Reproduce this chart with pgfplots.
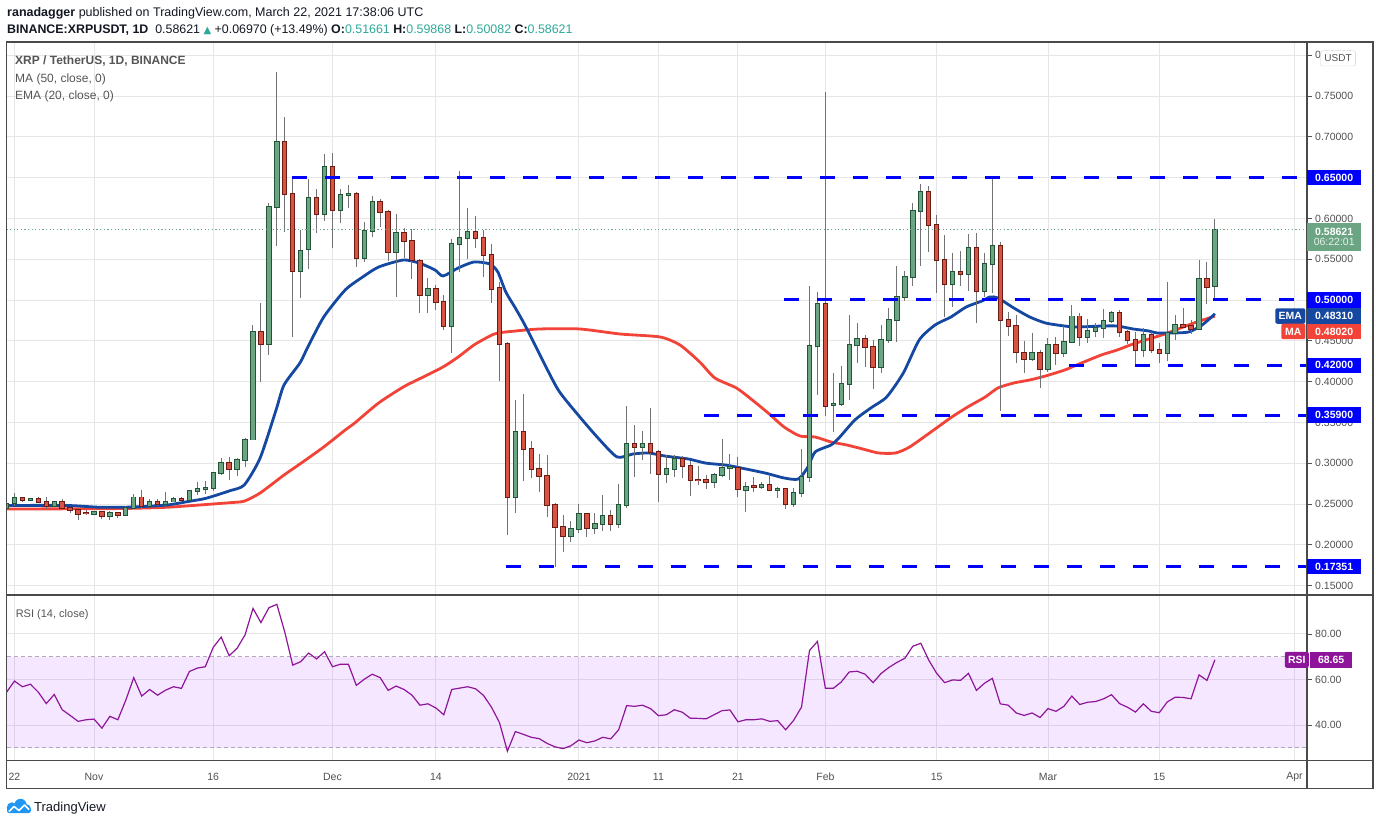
\documentclass[border=0pt]{standalone}
\usepackage{fontspec}
\setmainfont{Liberation Sans}
\newfontfamily\dejavu{DejaVu Sans}
\usepackage{pgfplots}
\usepackage{pgfplotstable}
\pgfplotsset{compat=1.18}

\definecolor{gridc}{RGB}{230,230,230}
\definecolor{framec}{RGB}{74,74,74}
\definecolor{labc}{RGB}{80,80,80}
\definecolor{gfill}{RGB}{107,165,131}
\definecolor{gbord}{RGB}{34,84,55}
\definecolor{rfill}{RGB}{215,84,66}
\definecolor{rbord}{RGB}{107,27,19}
\definecolor{wickc}{RGB}{115,115,117}
\definecolor{emac}{RGB}{21,72,160}
\definecolor{mac}{RGB}{242,67,56}
\definecolor{lvl}{RGB}{0,0,255}
\definecolor{rsic}{RGB}{142,21,153}
\definecolor{rsiband}{RGB}{153,21,255}
\definecolor{tvteal}{RGB}{45,168,150}
\definecolor{txt}{RGB}{19,23,34}
\definecolor{legc}{RGB}{85,85,85}
\definecolor{tvblue}{RGB}{33,150,243}

\pgfplotstableread{
k o h l c
-1 0.2445 0.2520 0.2430 0.2500
0 0.2510 0.2630 0.2480 0.2570
1 0.2570 0.2580 0.2530 0.2550
2 0.2550 0.2570 0.2540 0.2560
3 0.2560 0.2580 0.2510 0.2520
4 0.2520 0.2590 0.2440 0.2470
5 0.2470 0.2540 0.2460 0.2520
6 0.2520 0.2560 0.2440 0.2450
7 0.2450 0.2460 0.2390 0.2425
8 0.2425 0.2440 0.2300 0.2380
9 0.2390 0.2430 0.2370 0.2385
10 0.2380 0.2420 0.2360 0.2400
11 0.2400 0.2420 0.2320 0.2350
12 0.2350 0.2410 0.2300 0.2390
13 0.2390 0.2400 0.2330 0.2370
14 0.2370 0.2470 0.2360 0.2450
15 0.2450 0.2620 0.2440 0.2580
16 0.2580 0.2670 0.2440 0.2480
17 0.2480 0.2560 0.2460 0.2530
18 0.2530 0.2560 0.2480 0.2500
19 0.2500 0.2645 0.2480 0.2530
20 0.2530 0.2590 0.2520 0.2560
21 0.2560 0.2580 0.2530 0.2545
22 0.2550 0.2660 0.2540 0.2660
23 0.2660 0.2770 0.2610 0.2680
24 0.2680 0.2780 0.2620 0.2700
25 0.2692 0.2890 0.2660 0.2876
26 0.2876 0.3060 0.2860 0.2999
27 0.2999 0.3070 0.2800 0.2925
28 0.2925 0.3060 0.2840 0.3040
29 0.3040 0.3305 0.2957 0.3290
30 0.3290 0.4693 0.3280 0.4612
31 0.4612 0.4960 0.4000 0.4457
32 0.4457 0.6185 0.4326 0.6144
33 0.6144 0.7790 0.5666 0.6932
34 0.6932 0.7238 0.5830 0.6295
35 0.6295 0.6510 0.4550 0.5355
36 0.5355 0.5860 0.5020 0.5604
37 0.5621 0.6480 0.5376 0.6246
38 0.6246 0.6356 0.5817 0.6054
39 0.6054 0.6785 0.5970 0.6626
40 0.6626 0.6800 0.5633 0.6103
41 0.6103 0.6356 0.5940 0.6283
42 0.6283 0.6410 0.6130 0.6295
43 0.6295 0.6328 0.5410 0.5519
44 0.5519 0.5952 0.5470 0.5846
45 0.5846 0.6275 0.5776 0.6197
46 0.6197 0.6238 0.5900 0.6075
47 0.6075 0.6103 0.5480 0.5585
48 0.5585 0.6054 0.5033 0.5817
49 0.5817 0.5879 0.5519 0.5719
50 0.5719 0.5866 0.5253 0.5486
51 0.5474 0.5503 0.4845 0.5058
52 0.5058 0.5266 0.4845 0.5131
53 0.5131 0.5184 0.4878 0.4972
54 0.4972 0.5062 0.4633 0.4678
55 0.4678 0.5744 0.4355 0.5683
56 0.5683 0.6581 0.5348 0.5756
57 0.5756 0.6124 0.5499 0.5830
58 0.5830 0.6030 0.5642 0.5756
59 0.5756 0.5858 0.5278 0.5548
60 0.5548 0.5683 0.4968 0.5131
61 0.5143 0.5217 0.4012 0.4457
62 0.4457 0.4490 0.2120 0.2590
63 0.2590 0.3775 0.2394 0.3378
64 0.3378 0.3848 0.2786 0.3170
65 0.3170 0.3272 0.2823 0.2933
66 0.2933 0.3113 0.2651 0.2839
67 0.2839 0.3100 0.2337 0.2484
68 0.2484 0.2508 0.1732 0.2218
69 0.2218 0.2365 0.1916 0.2104
70 0.2104 0.2292 0.2038 0.2190
71 0.2190 0.2500 0.2149 0.2373
72 0.2373 0.2386 0.2100 0.2202
73 0.2202 0.2386 0.2132 0.2251
74 0.2251 0.2610 0.2173 0.2349
75 0.2349 0.2427 0.2173 0.2251
76 0.2251 0.2745 0.2210 0.2484
77 0.2484 0.3701 0.2447 0.3231
78 0.3231 0.3468 0.2835 0.3194
79 0.3194 0.3395 0.3039 0.3231
80 0.3231 0.3672 0.2864 0.3141
81 0.3141 0.3162 0.2529 0.2864
82 0.2864 0.3100 0.2761 0.2925
83 0.2925 0.3100 0.2835 0.3047
84 0.3047 0.3088 0.2823 0.2961
85 0.2961 0.3031 0.2602 0.2794
86 0.2794 0.2966 0.2733 0.2790
87 0.2794 0.2855 0.2680 0.2766
88 0.2766 0.2876 0.2700 0.2851
89 0.2851 0.3296 0.2835 0.2937
90 0.2937 0.3113 0.2794 0.2950
91 0.2946 0.3080 0.2590 0.2680
92 0.2672 0.2774 0.2398 0.2712
93 0.2720 0.2827 0.2643 0.2708
94 0.2712 0.2774 0.2680 0.2733
95 0.2729 0.2843 0.2668 0.2672
96 0.2672 0.2712 0.2569 0.2684
97 0.2680 0.2685 0.2435 0.2496
98 0.2496 0.2692 0.2459 0.2631
99 0.2631 0.3174 0.2582 0.2827
100 0.2827 0.5171 0.2774 0.4432
101 0.4432 0.5102 0.3836 0.4947
102 0.4947 0.7553 0.3582 0.3705
103 0.3709 0.4101 0.3386 0.3725
104 0.3721 0.4195 0.3700 0.3966
105 0.3966 0.4816 0.3774 0.4444
106 0.4444 0.4714 0.4232 0.4518
107 0.4518 0.4571 0.4183 0.4420
108 0.4420 0.4510 0.3905 0.4175
109 0.4175 0.4693 0.4109 0.4506
110 0.4506 0.4898 0.4477 0.4751
111 0.4751 0.5417 0.4489 0.5033
112 0.5033 0.5355 0.4992 0.5278
113 0.5278 0.6185 0.5176 0.6087
114 0.6087 0.6417 0.5417 0.6320
115 0.6320 0.6397 0.5592 0.5915
116 0.5915 0.6042 0.5082 0.5486
117 0.5486 0.5796 0.4796 0.5192
118 0.5192 0.5572 0.4918 0.5339
119 0.5339 0.5600 0.5176 0.5315
120 0.5315 0.5805 0.5114 0.5633
121 0.5633 0.5825 0.4714 0.5106
122 0.5106 0.5572 0.5041 0.5437
123 0.5437 0.6479 0.5082 0.5658
124 0.5658 0.5715 0.3644 0.4751
125 0.4751 0.4857 0.4559 0.4677
126 0.4677 0.4816 0.4232 0.4359
127 0.4346 0.4497 0.4101 0.4273
128 0.4273 0.4591 0.4257 0.4346
129 0.4346 0.4387 0.3917 0.4150
130 0.4150 0.4530 0.4113 0.4444
131 0.4444 0.4542 0.4203 0.4346
132 0.4346 0.4681 0.4297 0.4481
133 0.4481 0.4938 0.4470 0.4799
134 0.4799 0.4836 0.4440 0.4542
135 0.4542 0.4767 0.4477 0.4616
136 0.4616 0.4714 0.4550 0.4656
137 0.4656 0.4889 0.4538 0.4738
138 0.4738 0.4865 0.4714 0.4836
139 0.4836 0.4877 0.4542 0.4603
140 0.4603 0.4632 0.4460 0.4505
141 0.4505 0.4611 0.4211 0.4383
142 0.4383 0.4652 0.4305 0.4567
143 0.4567 0.4607 0.4346 0.4383
144 0.4383 0.4469 0.4223 0.4346
145 0.4346 0.5224 0.4256 0.4591
146 0.4591 0.4816 0.4509 0.4689
147 0.4689 0.4906 0.4660 0.4673
148 0.4677 0.4755 0.4579 0.4648
149 0.4648 0.5490 0.4640 0.5253
150 0.5253 0.5469 0.4946 0.5155
151 0.51661 0.59868 0.50082 0.58621
}\candles

\pgfplotstableread{
k r
-1 54.4
0 59.3
1 56.8
2 57.9
3 54.4
4 49.4
5 53.4
6 46.7
7 44.2
8 41.6
9 42.3
10 42.6
11 38.6
12 43.8
13 42.3
14 50.9
15 60.8
16 52.7
17 55.6
18 53.1
19 55.3
20 56.8
21 56.1
22 63.5
23 65.0
24 65.6
25 74.1
26 78.6
27 70.4
28 73.7
29 79.6
30 91.2
31 85.0
32 91.5
33 93.0
34 80.8
35 66.3
36 67.8
37 71.6
38 69.0
39 72.2
40 65.6
41 66.7
42 66.7
43 57.4
44 60.1
45 62.3
46 60.8
47 55.2
48 57.1
49 55.6
50 53.1
51 48.7
52 49.3
53 47.5
54 44.5
55 55.6
56 56.2
57 56.8
58 55.9
59 53.0
60 47.8
61 41.1
62 28.5
63 37.1
64 35.9
65 34.6
66 34.0
67 31.9
68 30.4
69 29.6
70 30.9
71 33.4
72 32.2
73 33.0
74 34.6
75 33.9
76 37.9
77 48.5
78 48.2
79 48.7
80 47.2
81 44.1
82 44.5
83 46.7
84 45.6
85 43.0
86 42.9
87 42.7
88 44.5
89 46.3
90 46.6
91 41.4
92 42.3
93 42.3
94 42.7
95 41.6
96 41.9
97 37.9
98 42.0
99 47.9
100 72.7
101 76.7
102 56.1
103 56.1
104 58.9
105 63.3
106 63.6
107 62.3
108 58.6
109 62.6
110 65.3
111 67.5
112 69.3
113 74.6
114 75.9
115 68.5
116 62.7
117 58.6
118 59.8
119 59.6
120 62.7
121 55.2
122 58.3
123 60.5
124 49.3
125 48.7
126 45.3
127 44.2
128 45.3
129 43.3
130 47.2
131 46.0
132 48.2
133 52.7
134 49.0
135 50.0
136 50.3
137 51.5
138 53.3
139 49.4
140 47.8
141 45.7
142 49.3
143 46.0
144 45.4
145 50.1
146 52.2
147 52.1
148 51.5
149 62.0
150 59.6
151 68.65
}\rsidata

\pgfplotsset{
  cbar/.style n args={2}{draw=none, mark=none, forget plot,
    error bars/.cd, y dir=minus, y explicit, error mark=none,
    error bar style={draw=#1, line width=#2, solid}, /pgfplots/.cd},
}
\tikzset{
  lbox/.style={anchor=west, inner sep=0pt, minimum height=15.5pt, minimum width=54pt,
    text=white, font=\bfseries\fontsize{10.5}{12}\selectfont},
}

\begin{document}
\begin{tikzpicture}[x=1pt,y=1pt]
\useasboundingbox (0,0) rectangle (1376,823);

% header
\node[anchor=base west, inner sep=0pt, text=txt, font=\fontsize{12.5}{14}\selectfont] at (7,806.3)
  {\textbf{ranadagger} published on TradingView.com, March 22, 2021 17:38:06 UTC};
\node[anchor=base west, inner sep=0pt, text=txt, font=\fontsize{12.4}{14}\selectfont] at (7,789.7)
  {\textbf{BINANCE:XRPUSDT, 1D}\ \ 0.58621 {\dejavu\fontsize{10}{12}\selectfont\color{tvteal}▲} +0.06970 (+13.49\%) \textbf{O:}\textcolor{tvteal}{0.51661} \textbf{H:}\textcolor{tvteal}{0.59868} \textbf{L:}\textcolor{tvteal}{0.50082} \textbf{C:}\textcolor{tvteal}{0.58621}};

% ---------- price pane ----------
\begin{axis}[
  at={(6.5pt,228pt)}, anchor=south west,
  scale only axis, width=1300.5pt, height=553pt,
  xmin=-1.006, xmax=162.58, ymin=0.13848, ymax=0.81618,
  axis line style={draw=none},
  clip mode=individual,
  xtick={0,10,25,40,53,71,81,91,102,116,130,144,161},
  xticklabels={},
  xtick style={draw=none},
  ytick={0.15,0.2,0.25,0.3,0.35,0.4,0.45,0.5,0.55,0.6,0.65,0.7,0.75,0.8},
  ytick pos=right, yticklabel pos=right,
  tick align=outside, major tick length=5pt,
  ytick style={labc, line width=0.8pt},
  grid=major, grid style={gridc, line width=0.9pt},
  yticklabel style={font=\fontsize{10.5}{12}\selectfont, text=labc, anchor=west, inner sep=0pt, xshift=3pt,
    /pgf/number format/fixed, /pgf/number format/fixed zerofill,
    /pgf/number format/precision=5, /pgf/number format/assume math mode=true},
]
% MA 50
\addplot[mac, line width=2.8pt, smooth, tension=0.4, forget plot] coordinates {
(-0.94,0.2439)(10.75,0.2442)(14.9,0.2447)(19.2,0.2460)(23.3,0.2488)(27.1,0.2516)(28.9,0.2535)(30.9,0.2635)(33.9,0.2855)(35.9,0.2990)(38.9,0.3199)(41.6,0.3407)(42.8,0.3493)(45.8,0.3738)(48.9,0.3934)(50.9,0.4032)(53.9,0.4179)(55.8,0.4301)(57.8,0.4449)(59.8,0.4559)(60.8,0.4596)(63.0,0.4620)(66.1,0.4645)(71.1,0.4645)(76.2,0.4583)(81.2,0.4547)(83.7,0.4449)(86.2,0.4240)(88.1,0.4044)(90.8,0.3922)(92.8,0.3775)(94.8,0.3615)(96.8,0.3444)(98.8,0.3333)(100.7,0.3321)(102.7,0.3260)(104.7,0.3223)(106.7,0.3174)(108.7,0.3125)(110.8,0.3125)(112.6,0.3199)(115.8,0.3419)(117.9,0.3566)(119.9,0.3689)(122.1,0.3811)(123.7,0.3922)(125.7,0.3983)(127.7,0.4020)(129.7,0.4069)(132.1,0.4142)(133.6,0.4203)(136.7,0.4326)(138.7,0.4387)(140.7,0.4461)(142.7,0.4522)(144.7,0.4583)(146.7,0.4657)(148.7,0.4730)(151,0.4802)};
% EMA 20
\addplot[emac, line width=2.8pt, smooth, tension=0.4, forget plot] coordinates {
(-0.94,0.2482)(6.6,0.2482)(10.75,0.2460)(14.9,0.2463)(19.2,0.2488)(21.7,0.2528)(23.7,0.2561)(24.8,0.2590)(27.1,0.2663)(28.9,0.2733)(30.9,0.3064)(32.9,0.3652)(33.9,0.3958)(35.9,0.4228)(36.9,0.4424)(38.9,0.4792)(41.6,0.5123)(43.8,0.5282)(45.8,0.5404)(48.9,0.5490)(50.9,0.5453)(52.9,0.5368)(53.9,0.5294)(55.8,0.5392)(57.8,0.5466)(59.8,0.5441)(60.8,0.5343)(61.8,0.5098)(63.0,0.4902)(64.2,0.4694)(66.1,0.4326)(68.4,0.3897)(70.9,0.3591)(73.4,0.3309)(75.8,0.3076)(77.8,0.3113)(79.8,0.3125)(81.8,0.3088)(84.8,0.3051)(86.9,0.3002)(89.4,0.2978)(90.8,0.2953)(94.4,0.2880)(96.8,0.2819)(98.6,0.2806)(99.8,0.2953)(100.7,0.3137)(102.7,0.3223)(103.7,0.3309)(105.7,0.3529)(107.7,0.3676)(109.7,0.3811)(111.8,0.4105)(113.8,0.4510)(115.8,0.4694)(117.8,0.4792)(119.7,0.4914)(121.7,0.4988)(122.7,0.5037)(123.7,0.5025)(125.7,0.4902)(127.7,0.4792)(129.7,0.4718)(132.1,0.4681)(133.6,0.4669)(136.7,0.4681)(138.7,0.4681)(140.7,0.4645)(142.7,0.4620)(143.7,0.4596)(145.7,0.4596)(147.7,0.4608)(149.4,0.4694)(151,0.4831)};

% wicks
\addplot[cbar={wickc}{1pt}] table[x=k, y=h, y error minus expr=\thisrow{h}-\thisrow{l}] {\candles};
% green bodies
\addplot[restrict expr to domain={\thisrow{c}-\thisrow{o}}{0:1}, cbar={gbord}{5.4pt}]
  table[x=k, y expr=\thisrow{c}+0.0011, y error minus expr=\thisrow{c}-\thisrow{o}+0.0022] {\candles};
\addplot[restrict expr to domain={\thisrow{c}-\thisrow{o}}{0:1}, cbar={gfill}{3.4pt}]
  table[x=k, y=c, y error minus expr=\thisrow{c}-\thisrow{o}] {\candles};
% red bodies
\addplot[restrict expr to domain={\thisrow{o}-\thisrow{c}}{0.0000001:1}, cbar={rbord}{5.4pt}]
  table[x=k, y expr=\thisrow{o}+0.0011, y error minus expr=\thisrow{o}-\thisrow{c}+0.0022] {\candles};
\addplot[restrict expr to domain={\thisrow{o}-\thisrow{c}}{0.0000001:1}, cbar={rfill}{3.4pt}]
  table[x=k, y=o, y error minus expr=\thisrow{o}-\thisrow{c}] {\candles};

% horizontal levels
\addplot[lvl, line width=3pt, dash pattern=on 15pt off 18pt, forget plot] coordinates {(34.906,0.65) (162.58,0.65)};
\addplot[lvl, line width=3pt, dash pattern=on 15pt off 18pt, forget plot] coordinates {(96.79,0.50) (162.58,0.50)};
\addplot[lvl, line width=3pt, dash pattern=on 15pt off 18pt, forget plot] coordinates {(132.64,0.42) (162.58,0.42)};
\addplot[lvl, line width=3pt, dash pattern=on 15pt off 18pt, forget plot] coordinates {(86.73,0.359) (162.58,0.359)};
\addplot[lvl, line width=3pt, dash pattern=on 15pt off 18pt, forget plot] coordinates {(61.82,0.17351) (162.58,0.17351)};
% current price dotted
\addplot[gfill, line width=0.9pt, dash pattern=on 1.2pt off 2.4pt, forget plot] coordinates {(-1.006,0.58621) (162.58,0.58621)};

\coordinate (L65) at (axis cs:162.58,0.65);
\coordinate (L50) at (axis cs:162.58,0.50);
\coordinate (L42) at (axis cs:162.58,0.42);
\coordinate (L359) at (axis cs:162.58,0.359);
\coordinate (L17) at (axis cs:162.58,0.17351);
\coordinate (Lcur) at (axis cs:162.58,0.5772);
\coordinate (Lema) at (axis cs:162.58,0.48039);
\coordinate (Lma) at (axis cs:162.58,0.46140);
\end{axis}

% ---------- RSI pane ----------
\begin{axis}[
  at={(6.5pt,62.5pt)}, anchor=south west,
  scale only axis, width=1300.5pt, height=165.5pt,
  xmin=-1.006, xmax=162.58, ymin=24.4, ymax=97.1,
  axis line style={draw=none},
  clip mode=individual,
  xtick={0,10,25,40,53,71,81,91,102,116,130,144,161},
  xticklabels={22,Nov,16,Dec,14,2021,11,21,Feb,15,Mar,15,Apr},
  xtick style={draw=none},
  xticklabel style={font=\fontsize{10.5}{12}\selectfont, text=labc, anchor=center, yshift=-11.5pt},
  ytick={40,60,80},
  ytick pos=right, yticklabel pos=right,
  tick align=outside, major tick length=5pt,
  ytick style={labc, line width=0.8pt},
  grid=major, grid style={gridc, line width=0.9pt},
  yticklabel style={font=\fontsize{10.5}{12}\selectfont, text=labc, anchor=west, inner sep=0pt, xshift=3pt,
    /pgf/number format/fixed, /pgf/number format/fixed zerofill,
    /pgf/number format/precision=2, /pgf/number format/assume math mode=true},
]
\addplot[draw=none, fill=rsiband, fill opacity=0.1, forget plot] coordinates {(-1.006,30) (162.58,30) (162.58,70) (-1.006,70)} -- cycle;
\addplot[color={rgb,255:red,178;green,170;blue,186}, line width=0.9pt, dash pattern=on 4pt off 3pt, forget plot] coordinates {(-1.006,70) (162.58,70)};
\addplot[color={rgb,255:red,178;green,170;blue,186}, line width=0.9pt, dash pattern=on 4pt off 3pt, forget plot] coordinates {(-1.006,30) (162.58,30)};
\addplot[rsic, line width=1.2pt, forget plot] table[x=k, y=r] {\rsidata};
\coordinate (Lrsi) at (axis cs:162.58,68.65);
\end{axis}

% frames
\draw[framec, line width=1.2pt] (6.5,34.4) rectangle (1373,781);
\draw[framec, line width=1.2pt] (6.5,228) -- (1373,228);
\draw[framec, line width=1.2pt] (6.5,62.5) -- (1373,62.5);
\draw[framec, line width=1.2pt] (1307,34.4) -- (1307,781);

% pane legends
\node[anchor=base west, inner sep=0pt, text=legc, font=\bfseries\fontsize{12}{14}\selectfont] at (15,758) {XRP / TetherUS, 1D, BINANCE};
\node[anchor=base west, inner sep=0pt, text=legc, font=\fontsize{12}{14}\selectfont] at (15,740.3) {MA (50, close, 0)};
\node[anchor=base west, inner sep=0pt, text=legc, font=\fontsize{12}{14}\selectfont] at (15,723) {EMA (20, close, 0)};
\node[anchor=base west, inner sep=0pt, text=legc, font=\fontsize{11}{13}\selectfont] at (15.6,206) {RSI (14, close)};

% USDT box
\node[draw={rgb,255:red,205;green,205;blue,210}, fill=white, rounded corners=2pt, inner sep=0pt,
  minimum width=34.6pt, minimum height=15.3pt, text=labc, font=\fontsize{10}{12}\selectfont] at (1338,764.6) {USDT};

% price scale boxes
\node[lbox, fill=lvl] at (L65) {0.65000};
\node[lbox, fill=lvl] at (L50) {0.50000};
\node[lbox, fill=lvl] at (L42) {0.42000};
\node[lbox, fill=lvl] at (L359) {0.35900};
\node[lbox, fill=lvl] at (L17) {0.17351};
\node[lbox, fill=gfill, minimum height=28.5pt, align=center] at (Lcur)
  {0.58621\\[-1.5pt]{\mdseries\color{white!85!gfill}06:22:01}};
\node[lbox, fill=emac] at (Lema) {0.48310};
\node[lbox, fill=emac, anchor=east, minimum width=30pt, rounded corners=2pt] at ([xshift=-1.5pt]Lema) {EMA};
\node[lbox, fill=mac] at (Lma) {0.48020};
\node[lbox, fill=mac, anchor=east, minimum width=24pt, rounded corners=2pt] at ([xshift=-1.5pt]Lma) {MA};
\node[lbox, fill=rsic, minimum width=42pt, minimum height=16pt] at ([xshift=3pt]Lrsi) {68.65};
\node[lbox, fill=rsic, anchor=east, minimum width=24pt, minimum height=16pt, rounded corners=2pt] at ([xshift=2pt]Lrsi) {RSI};

% TradingView logo
\fill[tvblue] (12,15.5) circle (5.2);
\fill[tvblue] (20.5,18) circle (6.2);
\fill[tvblue] (26.5,14.5) circle (4.3);
\fill[tvblue, rounded corners=2pt] (7,10) rectangle (30.8,16);
\draw[white, line width=1.6pt, line join=round] (9,11.5) -- (14,16.5) -- (19,12.5) -- (24.5,18) -- (29,13.5);
\node[anchor=base west, inner sep=0pt, text=txt, font=\fontsize{13}{15}\selectfont] at (34,12) {TradingView};
\end{tikzpicture}
\end{document}
